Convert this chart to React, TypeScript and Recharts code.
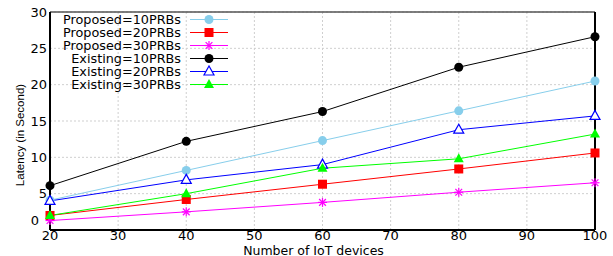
import { LineChart, Line, XAxis, YAxis, CartesianGrid, ReferenceLine } from "recharts";

const devices = [20, 40, 60, 80, 100];
const proposed10 = [4.1, 8.2, 12.3, 16.4, 20.5];
const proposed20 = [2.0, 4.2, 6.3, 8.4, 10.6];
const proposed30 = [1.3, 2.5, 3.8, 5.2, 6.5];
const existing10 = [6.1, 12.2, 16.3, 22.4, 26.6];
const existing20 = [4.0, 6.9, 9.0, 13.8, 15.7];
const existing30 = [2.0, 5.0, 8.5, 9.8, 13.2];

const xTicks = [20, 30, 40, 50, 60, 70, 80, 90, 100];
const yTicks = [0, 5, 10, 15, 20, 25, 30];

const series = [
  { key: "p10", name: "Proposed=10PRBs", values: proposed10, color: "#87CEEB", marker: "circle" },
  { key: "p20", name: "Proposed=20PRBs", values: proposed20, color: "#FF0000", marker: "square" },
  { key: "p30", name: "Proposed=30PRBs", values: proposed30, color: "#FF00FF", marker: "star" },
  { key: "e10", name: "Existing=10PRBs", values: existing10, color: "#000000", marker: "circle" },
  { key: "e20", name: "Existing=20PRBs", values: existing20, color: "#0000FF", marker: "openTriangle" },
  { key: "e30", name: "Existing=30PRBs", values: existing30, color: "#00FF00", marker: "triangle" },
];

const data = devices.map((d, i) => {
  const row: Record<string, number> = { devices: d };
  series.forEach((s) => (row[s.key] = s.values[i]));
  return row;
});

const font = "'DejaVu Sans', sans-serif";

function Marker({ type, color, cx, cy }: { type: string; color: string; cx: number; cy: number }) {
  if (type === "circle") return <circle cx={cx} cy={cy} r={4.5} fill={color} />;
  if (type === "square") return <rect x={cx - 4.5} y={cy - 4.5} width={9} height={9} fill={color} />;
  if (type === "star") {
    const r = 4.5;
    const d = r * 0.75;
    return (
      <g stroke={color} strokeWidth={1.2}>
        <line x1={cx - r} y1={cy} x2={cx + r} y2={cy} />
        <line x1={cx} y1={cy - r} x2={cx} y2={cy + r} />
        <line x1={cx - d} y1={cy - d} x2={cx + d} y2={cy + d} />
        <line x1={cx - d} y1={cy + d} x2={cx + d} y2={cy - d} />
      </g>
    );
  }
  const pts = `${cx},${cy - 5.5} ${cx - 5},${cy + 3.5} ${cx + 5},${cy + 3.5}`;
  if (type === "openTriangle") return <polygon points={pts} fill="#fff" stroke={color} strokeWidth={1.2} />;
  return <polygon points={pts} fill={color} />;
}

function makeDot(type: string, color: string) {
  return (props: any) => {
    const { cx, cy, index } = props;
    if (cx == null || cy == null) return <g key={index} />;
    return (
      <g key={index}>
        <Marker type={type} color={color} cx={cx} cy={cy} />
      </g>
    );
  };
}

function LegendBox() {
  return (
    <div
      style={{
        position: "absolute",
        left: 44,
        top: 13,
        fontFamily: font,
        fontSize: 12.8,
        color: "#000",
        lineHeight: "13px",
      }}
    >
      {series.map((s) => (
        <div key={s.key} style={{ display: "flex", alignItems: "center", height: 13 }}>
          <span style={{ width: 137, textAlign: "right", whiteSpace: "nowrap" }}>{s.name}</span>
          <svg width={50} height={13} style={{ marginLeft: 8 }}>
            <line x1={1} y1={6.5} x2={39} y2={6.5} stroke={s.color} strokeWidth={1} />
            <Marker type={s.marker} color={s.color} cx={20} cy={6.5} />
          </svg>
        </div>
      ))}
    </div>
  );
}

function YLabel(props: any) {
  const { viewBox } = props;
  const x = viewBox.x + 21;
  const y = viewBox.y + viewBox.height / 2 + 14;
  return (
    <text
      x={x}
      y={y}
      transform={`rotate(-90 ${x} ${y})`}
      textAnchor="middle"
      dominantBaseline="middle"
      fontFamily="'Liberation Sans', Arial, sans-serif"
      fontSize={11.5}
      fill="#000"
    >
      Latency (in Second)
    </text>
  );
}

function YTick(props: any) {
  const { x, y, payload } = props;
  const zero = payload.value === 0;
  return (
    <text
      x={zero ? x - 8 : x}
      y={zero ? y - 10 : y}
      textAnchor="end"
      dominantBaseline="central"
      fontFamily={font}
      fontSize={13}
      fill="#000"
    >
      {payload.value}
    </text>
  );
}

export default function App() {
  return (
    <div style={{ position: "absolute", left: 0, top: 0, width: 613, height: 256, background: "#fff" }}>
      <LineChart width={613} height={256} data={data} margin={{ top: 12, right: 18, left: 0, bottom: 0 }}>
        <CartesianGrid stroke="#cfcfcf" strokeDasharray="2 2" />
        <XAxis
          dataKey="devices"
          type="number"
          domain={[20, 100]}
          ticks={xTicks}
          interval={0}
          height={26}
          tickLine={false}
          tickSize={0}
          tickMargin={1}
          axisLine={{ stroke: "#000", strokeWidth: 2 }}
          tick={{ fill: "#000", fontSize: 13, fontFamily: font }}
          label={{
            value: "Number of IoT devices",
            position: "insideBottom",
            offset: 1.5,
            dx: -9,
            fill: "#000",
            fontSize: 12.5,
            fontFamily: font,
          }}
        />
        <YAxis
          type="number"
          domain={[0, 30]}
          ticks={yTicks}
          interval={0}
          width={50}
          tickLine={false}
          tickSize={0}
          tickMargin={3}
          axisLine={{ stroke: "#000", strokeWidth: 2 }}
          tick={<YTick />}
          label={<YLabel />}
        />
        <ReferenceLine y={30} stroke="#555" strokeWidth={1.5} />
        <ReferenceLine x={100} stroke="#000" strokeWidth={2} />
        {series.map((s) => (
          <Line
            key={s.key}
            dataKey={s.key}
            name={s.name}
            stroke={s.color}
            strokeWidth={1}
            dot={makeDot(s.marker, s.color)}
            activeDot={false}
            isAnimationActive={false}
          />
        ))}
      </LineChart>
      <LegendBox />
    </div>
  );
}
